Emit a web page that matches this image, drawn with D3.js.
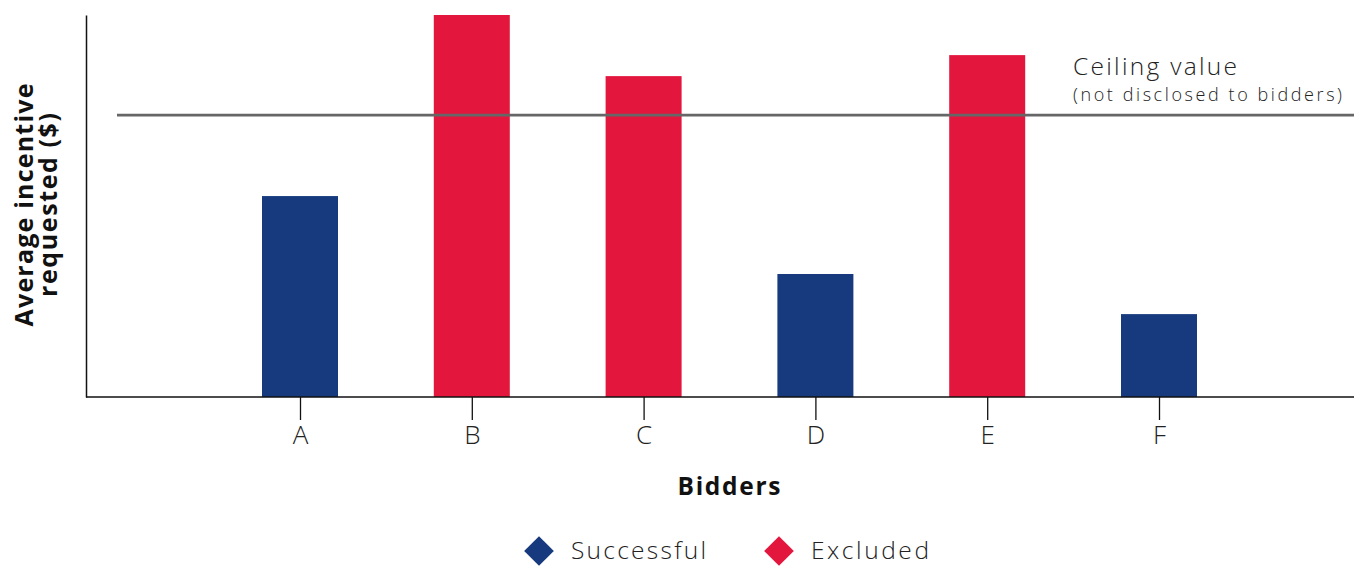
<!DOCTYPE html>
<html><head><meta charset="utf-8">
<script src="https://cdn.jsdelivr.net/npm/d3@7"></script>
<style>
body{margin:0;background:#fff;}
text{font-family:"Open Sans",Lato,sans-serif;}
</style></head>
<body><svg id="c" width="1354" height="567"></svg>
<script>
const bidders = ["A","B","C","D","E","F"];
const incentive = [52.6, 100, 84.0, 32.2, 89.5, 21.7];
const status = ["Successful","Excluded","Excluded","Successful","Excluded","Successful"];
const ceiling = 73.8;
const legendLabels = ["Successful","Excluded"];
const colors = {Successful:"#173a7e", Excluded:"#e3173e"};

const svg = d3.select("#c");
const x = d3.scalePoint().domain(bidders).range([300,1159]);
const y = d3.scaleLinear().domain([0,100]).range([397,15]);
const barW = 76;

svg.selectAll("rect.bar").data(bidders).join("rect")
  .attr("x", d=>x(d)-barW/2)
  .attr("y", (d,i)=>y(incentive[i]))
  .attr("width", barW)
  .attr("height", (d,i)=>y(0)-y(incentive[i]))
  .attr("fill", (d,i)=>colors[status[i]]);

// ceiling line
svg.append("line").attr("x1",117).attr("x2",1354)
  .attr("y1",y(ceiling)).attr("y2",y(ceiling))
  .attr("stroke","#666").attr("stroke-width",2.6);

svg.append("text").attr("x",1073).attr("y",y(ceiling)-40.5)
  .attr("font-size",24.5).attr("font-weight",300).attr("fill","#222")
  .attr("textLength",164).attr("lengthAdjust","spacing").text("Ceiling value");
svg.append("text").attr("x",1073).attr("y",y(ceiling)-14)
  .attr("font-size",18).attr("font-weight",300).attr("fill","#222")
  .attr("textLength",269).attr("lengthAdjust","spacing").text("(not disclosed to bidders)");

// x axis
svg.append("line").attr("x1",86).attr("x2",1354).attr("y1",397).attr("y2",397)
  .attr("stroke","#111").attr("stroke-width",1.5);
const xa = svg.append("g").attr("transform","translate(0,397)")
  .call(d3.axisBottom(x).tickSize(23).tickPadding(6));
xa.select(".domain").remove();
xa.selectAll(".tick line").attr("stroke","#111").attr("stroke-width",1.3);
xa.selectAll(".tick text").attr("font-size",26).attr("font-weight",300)
  .attr("fill","#222").attr("font-family","'Open Sans', Lato, sans-serif");

// y axis
const ya = svg.append("g").attr("transform","translate(86,0)")
  .call(d3.axisLeft(y).ticks(0).tickSizeOuter(0));
ya.select(".domain").attr("stroke","#111").attr("stroke-width",1.5);

// titles
svg.append("text").attr("x",729).attr("y",495).attr("text-anchor","middle")
  .attr("font-size",24.5).attr("font-weight",700).attr("fill","#111")
  .attr("textLength",103).attr("lengthAdjust","spacing").text("Bidders");
const yt = svg.append("g").attr("transform","translate(0,205) rotate(-90)");
yt.append("text").attr("x",0).attr("y",33).attr("text-anchor","middle")
  .attr("font-size",25).attr("font-weight",700).attr("fill","#111")
  .attr("textLength",243).attr("lengthAdjust","spacing").text("Average incentive");
yt.append("text").attr("x",0).attr("y",57).attr("text-anchor","middle")
  .attr("font-size",25).attr("font-weight",700).attr("fill","#111")
  .attr("textLength",184).attr("lengthAdjust","spacing").text("requested ($)");

// legend
const legX = [539, 779];
const legW = [135, 118];
const lg = svg.selectAll("g.leg").data(legendLabels).join("g")
  .attr("transform",(d,i)=>`translate(${legX[i]},551)`);
lg.append("rect").attr("x",-10.5).attr("y",-10.5).attr("width",21).attr("height",21)
  .attr("transform","rotate(45)").attr("fill",d=>colors[d]);
lg.append("text").attr("x",32).attr("y",8).attr("font-size",24.5).attr("font-weight",300)
  .attr("fill","#222").attr("textLength",(d,i)=>legW[i]).attr("lengthAdjust","spacing").text(d=>d);
</script></body></html>
